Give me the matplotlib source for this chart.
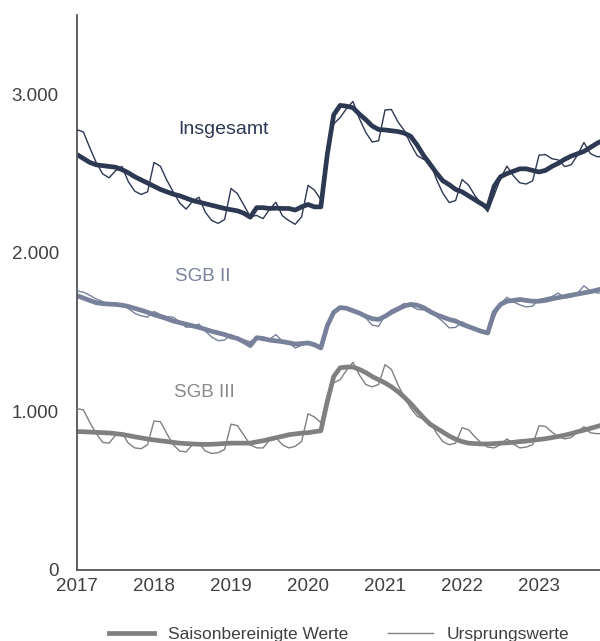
import matplotlib
matplotlib.use("Agg")
import matplotlib.pyplot as plt
from matplotlib.lines import Line2D

plt.rcParams['font.family'] = ['Liberation Sans', 'DejaVu Sans']

# Monatswerte Jan 2017 .. Nov 2023, in Tausend
years = [2017, 2018, 2019, 2020, 2021, 2022, 2023]
n_months = 83

total_orig = [2777, 2762, 2662, 2569, 2498, 2473, 2518, 2545, 2449, 2389, 2368, 2385,
              2570, 2546, 2458, 2384, 2315, 2276, 2325, 2351, 2256, 2204, 2186, 2210,
              2406, 2373, 2301, 2229, 2236, 2216, 2275, 2319, 2234, 2204, 2180, 2227,
              2426, 2396, 2335, 2644, 2813, 2853, 2910, 2955, 2847, 2760, 2699, 2707,
              2901, 2904, 2827, 2771, 2687, 2614, 2590, 2578, 2465, 2377, 2317, 2330,
              2462, 2428, 2362, 2309, 2260, 2363, 2470, 2547, 2486, 2442, 2434, 2454,
              2616, 2620, 2594, 2586, 2544, 2555, 2617, 2696, 2626, 2607, 2606]
total_sa = [2620, 2595, 2570, 2555, 2550, 2545, 2540, 2525, 2505, 2480, 2460, 2440,
            2420, 2400, 2385, 2370, 2360, 2345, 2330, 2320, 2310, 2300, 2290, 2280,
            2272, 2265, 2250, 2225, 2285, 2285, 2280, 2282, 2280, 2280, 2270, 2290,
            2305, 2290, 2290, 2620, 2870, 2930, 2925, 2915, 2875, 2840, 2800, 2778,
            2775, 2770, 2765, 2755, 2735, 2680, 2615, 2560, 2505, 2455, 2430, 2400,
            2385, 2360, 2335, 2310, 2285, 2420, 2480, 2500, 2515, 2530, 2530, 2520,
            2510, 2520, 2545, 2565, 2590, 2610, 2625, 2640, 2665, 2690, 2710]

sgb2_orig = [1760, 1752, 1732, 1709, 1693, 1673, 1668, 1680, 1649, 1619, 1603, 1595,
             1630, 1611, 1598, 1594, 1565, 1531, 1535, 1551, 1506, 1469, 1446, 1450,
             1486, 1463, 1451, 1439, 1466, 1446, 1455, 1484, 1444, 1434, 1400, 1417,
             1441, 1431, 1405, 1544, 1633, 1653, 1650, 1645, 1617, 1590, 1544, 1537,
             1606, 1639, 1657, 1681, 1667, 1644, 1640, 1643, 1600, 1567, 1527, 1530,
             1565, 1543, 1522, 1509, 1485, 1593, 1680, 1720, 1691, 1672, 1659, 1664,
             1706, 1715, 1724, 1746, 1717, 1720, 1747, 1792, 1761, 1747, 1746]
sgb2_sa = [1730, 1715, 1700, 1685, 1680, 1677, 1675, 1670, 1662, 1650, 1638, 1625,
           1610, 1598, 1585, 1570, 1560, 1550, 1540, 1530, 1518, 1505, 1495, 1485,
           1470, 1460, 1440, 1415, 1465, 1460, 1450, 1445, 1440, 1433, 1425, 1428,
           1432, 1420, 1400, 1540, 1625, 1655, 1650, 1635, 1620, 1600, 1585, 1580,
           1600, 1625, 1645, 1665, 1675, 1670, 1655, 1630, 1610, 1595, 1580, 1570,
           1550, 1535, 1520, 1505, 1495, 1625, 1675, 1695, 1700, 1706, 1700, 1695,
           1695, 1700, 1710, 1718, 1725, 1733, 1740, 1748, 1755, 1765, 1775]

sgb3_orig = [1017, 1010, 930, 860, 805, 800, 850, 865, 800, 770, 765, 790,
             940, 935, 860, 790, 750, 745, 790, 800, 750, 735, 740, 760,
             920, 910, 850, 790, 770, 770, 820, 835, 790, 770, 780, 810,
             985, 965, 930, 1100, 1180, 1200, 1260, 1310, 1230, 1170, 1155, 1170,
             1295, 1265, 1170, 1090, 1020, 970, 950, 935, 865, 810, 790, 800,
             897, 885, 840, 800, 775, 770, 790, 827, 795, 770, 775, 790,
             910, 905, 870, 840, 827, 835, 870, 904, 865, 860, 860]
sgb3_sa = [873, 872, 870, 868, 866, 864, 860, 855, 848, 840, 833, 826,
           820, 815, 810, 805, 800, 797, 795, 793, 792, 793, 795, 798,
           800, 800, 800, 800, 808, 815, 825, 834, 843, 853, 858, 863,
           866, 872, 878, 1060, 1220, 1275, 1280, 1280, 1265, 1245, 1220, 1200,
           1180, 1155, 1125, 1090, 1050, 1005, 960, 920, 895, 870, 845, 825,
           810, 800, 797, 795, 795, 797, 800, 802, 805, 810, 813, 818,
           823, 828, 835, 842, 850, 860, 872, 882, 893, 905, 916]

months = list(range(n_months))

c_total = '#2d3852'
c_sgb2 = '#78819a'
c_sgb3 = '#808080'

fig = plt.figure(figsize=(6.0, 6.41), dpi=100)
ax = fig.add_axes([77 / 600, 71 / 641, 523 / 600, 555 / 641])

for sa, orig, col in [(total_sa, total_orig, c_total),
                      (sgb2_sa, sgb2_orig, c_sgb2),
                      (sgb3_sa, sgb3_orig, c_sgb3)]:
    ax.plot(months, sa, color=col, linewidth=3.4, solid_capstyle='butt', zorder=2)
    ax.plot(months, orig, color=col, linewidth=1.0, zorder=3)

ax.set_xlim(0, 81.5)
ax.set_ylim(0, 3500)
ax.set_yticks([0, 1000, 2000, 3000])
ax.set_yticklabels(['0', '1.000', '2.000', '3.000'])
ax.set_xticks([(y - 2017) * 12 for y in years])
ax.set_xticklabels([str(y) for y in years])
ax.tick_params(axis='both', length=0, labelsize=13.5, colors='#404040')
ax.tick_params(axis='y', pad=13)
ax.tick_params(axis='x', pad=6)

for side in ['top', 'right']:
    ax.spines[side].set_visible(False)
for side in ['left', 'bottom']:
    ax.spines[side].set_color('#555555')
    ax.spines[side].set_linewidth(1.3)

ax.text(22.9, 2780, 'Insgesamt', color=c_total, fontsize=14, ha='center', va='center')
ax.text(19.6, 1850, 'SGB II', color=c_sgb2, fontsize=13.5, ha='center', va='center')
ax.text(19.9, 1120, 'SGB III', color='#8a8a8a', fontsize=13.5, ha='center', va='center')

handles = [Line2D([0], [0], color='#808080', linewidth=3.4),
           Line2D([0], [0], color='#808080', linewidth=1.0)]
fig.legend(handles, ['Saisonbereinigte Werte', 'Ursprungswerte'],
           loc='center', bbox_to_anchor=(339 / 600, 1 - 634 / 641), ncol=2,
           frameon=False, fontsize=12.5, handlelength=2.6, handletextpad=0.8,
           columnspacing=2.3, labelcolor='#404040')

fig.savefig('out.png', dpi=100)
